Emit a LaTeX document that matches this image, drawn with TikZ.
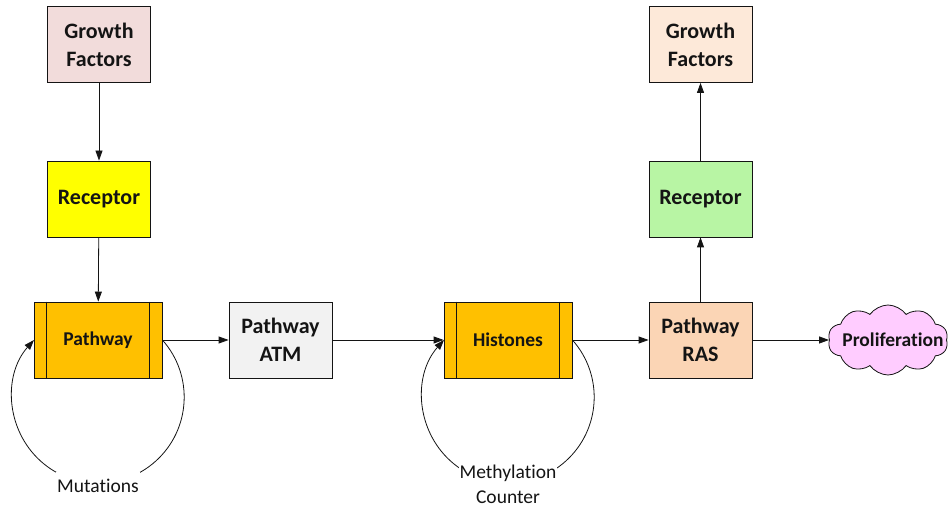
\documentclass[tikz,border=0pt]{standalone}
\usepackage{fontspec}
\setmainfont{Carlito}[Ligatures=NoCommon]
\usetikzlibrary{arrows.meta,shapes.symbols}
\definecolor{gfl}{RGB}{242,220,219}
\definecolor{recl}{RGB}{255,255,0}
\definecolor{procc}{RGB}{255,192,0}
\definecolor{atmc}{RGB}{242,242,242}
\definecolor{rasc}{RGB}{251,213,181}
\definecolor{recr}{RGB}{184,245,164}
\definecolor{gfr}{RGB}{253,233,217}
\definecolor{cloudc}{RGB}{255,204,255}
\definecolor{ink}{RGB}{20,20,20}
\begin{document}
\begin{tikzpicture}[x=1pt,y=1pt,
  box/.style={draw=ink, line width=0.8pt, minimum width=103pt, minimum height=76pt, inner sep=0pt, align=center, text=ink, font=\bfseries\fontsize{22}{28}\selectfont},
  proc/.style={box, minimum width=128pt, fill=procc, font=\bfseries\fontsize{19.5}{24}\selectfont},
  arr/.style={-{Triangle[length=10pt,width=7pt]}, line width=0.8pt, draw=ink},
  lbl/.style={fill=white, inner sep=1pt, align=center, text=ink, font=\fontsize{19.5}{25}\selectfont}]
\useasboundingbox (0,0) rectangle (950,508);
% nodes
\node[box, fill=gfl] (gfl) at (99,463.5) {Growth\\Factors};
\node[box, fill=recl] (recl) at (99,309) {Receptor};
\node[proc] (pw) at (98,168) {Pathway};
\node[box, fill=atmc] (atm) at (280.5,168) {Pathway\\ATM};
\node[proc] (hi) at (508,168) {Histones};
\node[box, fill=rasc] (ras) at (700.5,168) {Pathway\\RAS};
\node[box, fill=recr] (recr) at (700.5,309) {Receptor};
\node[box, fill=gfr] (gfr) at (700.5,463.5) {Growth\\Factors};
\node[cloud, cloud puffs=10, cloud puff arc=110, draw=ink, line width=0.8pt, fill=cloudc,
      minimum width=120pt, minimum height=70pt, inner sep=0pt,
      label={[text=ink, font=\bfseries\fontsize{19.5}{24}\selectfont, xshift=5pt]center:Proliferation}] (cl) at (888,168) {};
% process side bars
\foreach \n in {pw,hi}{
  \draw[line width=0.8pt, draw=ink] ([xshift=13pt]\n.north west) -- ([xshift=13pt]\n.south west);
  \draw[line width=0.8pt, draw=ink] ([xshift=-13pt]\n.north east) -- ([xshift=-13pt]\n.south east);
}
% connectors
\draw[arr] (gfl) -- (recl);
\draw[arr] (recl) -- (pw);
\draw[arr] (pw) -- (atm);
\draw[arr] (atm) -- (hi);
\draw[arr] (hi) -- (ras);
\draw[arr] (ras.east) -- (ras.east -| cl.west);
\draw[arr] (ras) -- (recr);
\draw[arr] (recr) -- (gfr);
% loops
\draw[arr] (pw.east) arc[start angle=41.7, end angle=-221.7, radius=86];
\draw[arr] (hi.east) arc[start angle=41.7, end angle=-221.7, radius=86];
\node[lbl, minimum height=28pt] (mut) at (98,22) {Mutations};
\node[lbl] (meth) at (508,24) {Methylation\\Counter};
\end{tikzpicture}
\end{document}
